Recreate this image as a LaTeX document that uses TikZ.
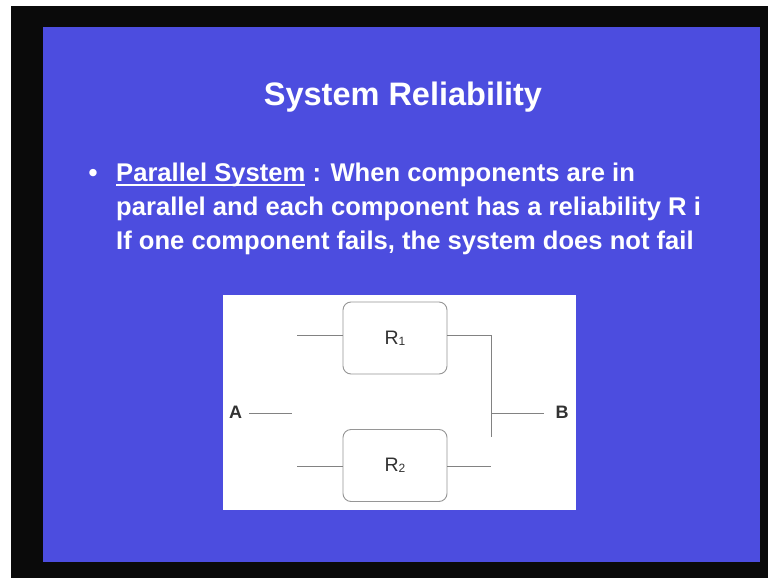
\documentclass[tikz,border=0pt]{standalone}
\usepackage{fontspec}
\setmainfont{Liberation Sans}
\definecolor{slideblue}{RGB}{76,77,223}
\definecolor{wire}{RGB}{130,130,130}
\definecolor{boxline}{RGB}{150,150,150}
\definecolor{ink}{RGB}{50,50,50}
\tikzset{
  slidetext/.style={text=white, inner sep=0pt, anchor=base west, font=\bfseries\fontsize{25.6}{34}\selectfont},
  blockbox/.style={draw=boxline, line width=0.9pt, fill=white, rounded corners=8pt,
                   minimum width=104pt, minimum height=72pt, inner sep=0pt,
                   text=ink, font=\fontsize{19.5}{19.5}\selectfont},
  terminal/.style={text=ink, inner sep=0pt, anchor=base, font=\bfseries\fontsize{18}{18}\selectfont},
  wireline/.style={draw=wire, line width=1pt}
}
% R with a small index sitting on the baseline
\newcommand{\blocklabel}[1]{R\raisebox{-0.8pt}{\fontsize{12}{12}\selectfont #1}}
% underline drawn a fixed distance below the baseline
\newcommand{\lineunder}[1]{\setbox0\hbox{#1}\rlap{\rule[-4.6pt]{\wd0}{1.3pt}}\box0\relax}
\begin{document}
\begin{tikzpicture}[x=1pt,y=-1pt]
  \useasboundingbox (0,0) rectangle (768,578);
  % screen frame and slide
  \fill[white] (0,0) rectangle (768,578);
  \fill[black!96] (11,6) rectangle (768,578);
  \fill[slideblue] (43,27) rectangle (760,562);

  % title
  \node[text=white, inner sep=0pt, anchor=base, font=\bfseries\fontsize{32.5}{34}\selectfont]
    (title) at (403,105) {System Reliability};

  % bullet text
  \node[text=white, inner sep=0pt, anchor=base, font=\bfseries\fontsize{25.6}{34}\selectfont]
    (dot) at (93,181) {•};
  \node[slidetext] (line1) at (116,181) {\lineunder{Parallel System} : When components are in};
  \node[slidetext] (line2) at (116,215) {parallel and each component has a reliability R i};
  \node[slidetext] (line3) at (116,249) {If one component fails, the system does not fail};

  % diagram panel
  \fill[white] (223,295) rectangle (576,510);

  \node[blockbox] (R1) at (395,338) {\blocklabel{1}};
  \node[blockbox] (R2) at (395,465.5) {\blocklabel{2}};

  \node[terminal] (A) at (235.5,418) {A};
  \node[terminal] (B) at (562,418) {B};

  % free ends of the wires
  \coordinate (a1) at (292,413);
  \coordinate (in1) at (297,335);
  \coordinate (in2) at (297,466);
  \coordinate (j1) at (491,335);
  \coordinate (j2) at (491,437);
  \coordinate (o2) at (491,466);
  \coordinate (b0) at (491,413);
  \coordinate (b1) at (544,413);

  \draw[wireline] ([xshift=7pt]A.east |- a1) -- (a1);
  \draw[wireline] (in1) -- (in1 -| R1.west);
  \draw[wireline] (in2) -- (in2 -| R2.west);
  \draw[wireline] (j1 -| R1.east) -- (j1) -- (j2);
  \draw[wireline] (o2 -| R2.east) -- (o2);
  \draw[wireline] (b0) -- (b1);
\end{tikzpicture}
\end{document}
